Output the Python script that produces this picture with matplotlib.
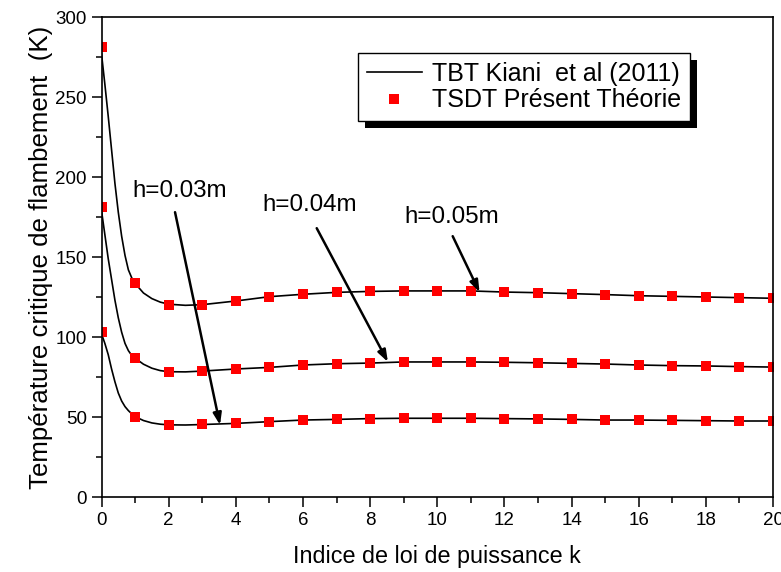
import matplotlib
matplotlib.use("Agg")
import matplotlib.pyplot as plt
from matplotlib.patches import Rectangle
from matplotlib.ticker import MultipleLocator

plt.rcParams['font.family'] = ['Liberation Sans', 'DejaVu Sans']

# --- TSDT present theory (markers) ---
k_pts = list(range(0, 21))
tsdt_h003 = [281, 133.5, 120, 120, 122.5, 125.2, 126.7, 127.9, 128.5, 128.8, 128.8,
             128.8, 128.1, 127.7, 127.1, 126.5, 125.8, 125.4, 125.0, 124.6, 124.2]
tsdt_h004 = [181.5, 87.1, 78.3, 78.7, 80.0, 81.0, 82.5, 83.3, 83.7, 84.4, 84.4,
             84.4, 84.2, 83.9, 83.5, 83.1, 82.5, 82.1, 81.9, 81.5, 81.2]
tsdt_h005 = [103.3, 50.2, 45.0, 45.4, 46.0, 47.1, 48.1, 48.5, 49.0, 49.2, 49.2,
             49.2, 49.0, 48.8, 48.5, 48.1, 48.1, 47.9, 47.7, 47.5, 47.5]

# --- TBT Kiani et al (2011) (lines) ---
k_line = [0, 0.1, 0.2, 0.3, 0.4, 0.5, 0.6, 0.7, 0.8, 0.9, 1, 1.25, 1.5, 1.75, 2, 2.5, 3,
          4, 5, 6, 7, 8, 9, 10, 11, 12, 13, 14, 15, 16, 17, 18, 19, 20]
tbt_top = [277, 258, 238, 217, 196, 178, 163, 151, 142, 137, 133.5, 127.5, 124, 121.8, 120.5, 119.8, 120.2,
           122.5, 125.2, 126.7, 127.9, 128.5, 128.8, 128.8, 128.8, 128.1, 127.7, 127.1, 126.5, 125.8,
           125.4, 125.0, 124.6, 124.2]
tbt_mid = [179, 164, 149, 136, 123, 112, 103, 96, 91.5, 88.5, 86.8, 83, 80.5, 79, 78.3, 78.2, 78.7,
           80.0, 81.0, 82.5, 83.3, 83.7, 84.4, 84.4, 84.4, 84.2, 83.9, 83.5, 83.1, 82.5, 82.1,
           81.9, 81.5, 81.2]
tbt_bot = [102, 96, 89, 80, 72, 65, 60, 56.5, 54, 52, 50.2, 47.8, 46.3, 45.5, 45.1, 45.0, 45.3,
           46.0, 47.1, 48.1, 48.5, 49.0, 49.2, 49.2, 49.2, 49.0, 48.8, 48.5, 48.1, 48.1, 47.9,
           47.7, 47.5, 47.5]

# annotations: label, text position, arrow start, arrow tip
labels = ["h=0.03m", "h=0.04m", "h=0.05m"]
text_xy = [(0.91, 191), (4.78, 182.5), (9.03, 175)]
arrow_from = [(2.19, 178), (6.41, 168), (10.46, 163)]
arrow_to = [(3.53, 45), (8.53, 84.4), (11.26, 128)]

fig = plt.figure(figsize=(7.81, 5.72), dpi=100)
ax = fig.add_axes([101.5 / 781, 1 - 497 / 572, (773 - 101.5) / 781, (497 - 17) / 572])

line_kw = dict(color='black', lw=1.2)
ax.plot(k_line, tbt_top, label='TBT Kiani  et al (2011)', **line_kw)
ax.plot(k_line, tbt_mid, **line_kw)
ax.plot(k_line, tbt_bot, **line_kw)

mk_kw = dict(ls='none', marker='s', ms=7.2, color='red', mec='red', mew=0)
ax.plot(k_pts, tsdt_h003, label='TSDT Présent Théorie', **mk_kw)
ax.plot(k_pts, tsdt_h004, **mk_kw)
ax.plot(k_pts, tsdt_h005, **mk_kw)

for lab, txy, a0, a1 in zip(labels, text_xy, arrow_from, arrow_to):
    ax.text(txy[0], txy[1], lab, fontsize=17.4, ha='left', va='center')
    ax.annotate('', xy=a1, xytext=a0,
                arrowprops=dict(arrowstyle='-|>,head_length=0.7,head_width=0.25',
                                color='black', lw=1.8, shrinkA=0, shrinkB=0))

ax.set_xlim(0, 20)
ax.set_ylim(0, 300)
ax.xaxis.set_major_locator(MultipleLocator(2))
ax.xaxis.set_minor_locator(MultipleLocator(1))
ax.yaxis.set_major_locator(MultipleLocator(50))
ax.yaxis.set_minor_locator(MultipleLocator(25))
ax.tick_params(which='both', direction='out', top=False, right=False, width=1.1, labelsize=13.5)
ax.tick_params(which='major', length=7)
ax.tick_params(which='minor', length=4)
for s in ax.spines.values():
    s.set_linewidth(1.2)

ax.set_xlabel('Indice de loi de puissance k', fontsize=16.8, labelpad=12)
ax.set_ylabel('Température critique de flambement  (K)', fontsize=18.6, labelpad=2)

leg = ax.legend(loc='upper left', bbox_to_anchor=(358 / 781, 1 - 53 / 572),
                bbox_transform=fig.transFigure, borderaxespad=0, fontsize=18,
                fancybox=False, frameon=True, edgecolor='black', framealpha=1,
                handlelength=2.2, handletextpad=0.4, borderpad=0.35, labelspacing=0.1)
leg.get_frame().set_linewidth(1.0)
leg.set_zorder(6)

fig.canvas.draw()
bb = leg.get_window_extent().transformed(fig.transFigure.inverted())
dx, dy = 7 / 781, 7 / 572
shadow = Rectangle((bb.x0 + dx, bb.y0 - dy), bb.width, bb.height, transform=fig.transFigure,
                   facecolor='black', edgecolor='none', zorder=5.5, clip_on=False)
ax.add_patch(shadow)

fig.savefig('out.png', dpi=100)
